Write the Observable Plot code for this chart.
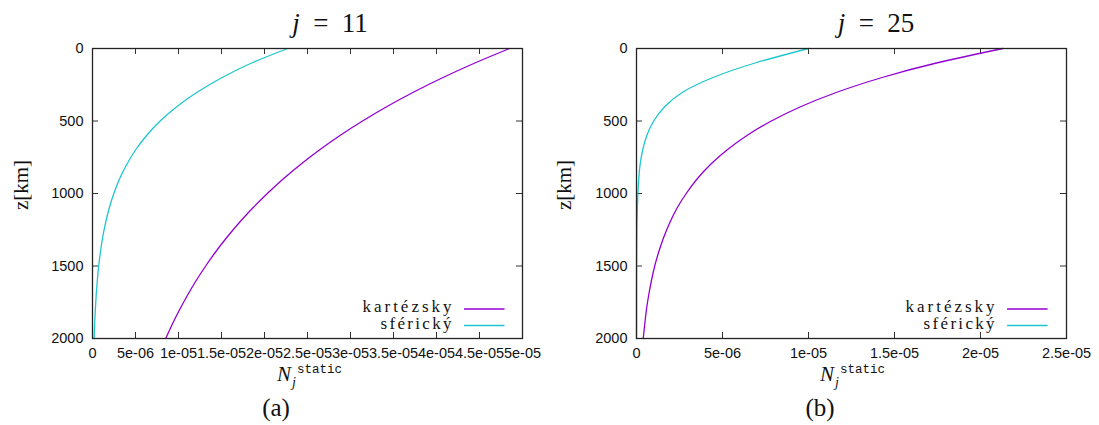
<!DOCTYPE html>
<html><head><meta charset="utf-8">
<script src="https://cdn.jsdelivr.net/npm/d3@7"></script>
<script src="https://cdn.jsdelivr.net/npm/@observablehq/plot@0.6"></script>
<style>
html,body{margin:0;padding:0;background:#fff;}
#wrap{position:relative;width:1099px;height:425px;overflow:hidden;background:#fff;}
.panel{position:absolute;top:0;}
#overlay{position:absolute;left:0;top:0;pointer-events:none;}
#overlay text{font-family:"Liberation Serif","Times New Roman",serif;fill:#111;}
</style></head><body>
<div id="wrap">
<div id="p1" class="panel" style="left:0px"></div>
<div id="p2" class="panel" style="left:549px"></div>
<svg id="overlay" width="1099" height="425"></svg>
</div>
<script>
// depth z [km]
const depth = [0,100,200,300,400,500,600,700,800,900,1000,1100,1200,1300,1400,1500,1600,1700,1800,1900,2000];
// j = 11
const cart11 = [4.85e-5,4.446e-5,4.076e-5,3.736e-5,3.425e-5,3.140e-5,2.878e-5,2.638e-5,2.419e-5,2.217e-5,2.033e-5,1.863e-5,1.708e-5,1.566e-5,1.435e-5,1.316e-5,1.206e-5,1.106e-5,1.014e-5,0.929e-5,0.852e-5];
const sph11  = [2.27e-5,1.85e-5,1.508e-5,1.221e-5,0.983e-5,0.786e-5,0.629e-5,0.500e-5,0.398e-5,0.314e-5,0.248e-5,0.195e-5,0.153e-5,0.119e-5,0.093e-5,0.072e-5,0.056e-5,0.043e-5,0.033e-5,0.025e-5,0.019e-5];
// j = 25
const cart25 = [2.13e-5,1.744e-5,1.428e-5,1.169e-5,0.957e-5,0.784e-5,0.642e-5,0.526e-5,0.430e-5,0.352e-5,0.289e-5,0.236e-5,0.194e-5,0.159e-5,0.130e-5,0.106e-5,0.087e-5,0.071e-5,0.058e-5,0.048e-5,0.039e-5];
const sph25  = [1.00e-5,0.69e-5,0.445e-5,0.27e-5,0.165e-5,0.10e-5,0.06e-5,0.036e-5,0.021e-5,0.013e-5,0.008e-5,0.005e-5,0.003e-5,0.0018e-5,0.0011e-5,0.0007e-5,0.0004e-5,0.00025e-5,0.00015e-5,0.0001e-5,0.00005e-5];

const xTicks11 = [0,5e-6,1e-5,1.5e-5,2e-5,2.5e-5,3e-5,3.5e-5,4e-5,4.5e-5,5e-5];
const xTickLabels11 = ["0","5e-06","1e-05","1.5e-05","2e-05","2.5e-05","3e-05","3.5e-05","4e-05","4.5e-05","5e-05"];
const xTicks25 = [0,5e-6,1e-5,1.5e-5,2e-5,2.5e-5];
const xTickLabels25 = ["0","5e-06","1e-05","1.5e-05","2e-05","2.5e-05"];
const yTicks = [0,500,1000,1500,2000];
const yTickLabels = ["0","500","1000","1500","2000"];
const seriesNames = ["kartézsky","sférický"];
const colors = ["#9400d3","#1fc6cf"];

const FW = 430, FH = 290;
function panel(cart, sph, xMax, xTicks, xTickLabels, marginLeft, marginRight) {
  const rows = vals => depth.map((z, i) => ({z, n: vals[i]}));
  return Plot.plot({
    width: 550, height: 425,
    marginLeft, marginRight, marginTop: 48, marginBottom: 87,
    x: {domain: [0, xMax], axis: null},
    y: {domain: [0, 2000], reverse: true, axis: null},
    style: {fontFamily: "'Liberation Sans', Arial, sans-serif", fontSize: "14.5px", color: "#111", background: "transparent"},
    marks: [
      Plot.tickX(xTicks, {x: d => d, insetTop: FH - 6, stroke: "#333"}),
      Plot.tickX(xTicks, {x: d => d, insetBottom: FH - 6, stroke: "#333"}),
      Plot.tickY(yTicks, {y: d => d, insetRight: FW - 6, stroke: "#333"}),
      Plot.tickY(yTicks, {y: d => d, insetLeft: FW - 6, stroke: "#333"}),
      Plot.line(rows(cart), {x: "n", y: "z", stroke: colors[0], strokeWidth: 1.3, curve: "natural"}),
      Plot.line(rows(sph), {x: "n", y: "z", stroke: colors[1], strokeWidth: 1.3, curve: "natural"}),
      Plot.frame({stroke: "#222", strokeWidth: 1.3}),
      Plot.text(xTicks, {x: d => d, text: (d, i) => xTickLabels[i], frameAnchor: "bottom", dy: 15, lineAnchor: "middle", fill: "#111"}),
      Plot.text(yTicks, {y: d => d, text: (d, i) => yTickLabels[i], frameAnchor: "left", dx: -9, textAnchor: "end", lineAnchor: "middle", fill: "#111"})
    ]
  });
}

document.getElementById("p1").append(panel(cart11, sph11, 5e-5, xTicks11, xTickLabels11, 92, 28));
document.getElementById("p2").append(panel(cart25, sph25, 2.5e-5, xTicks25, xTickLabels25, 87, 33));

// decorations (titles, axis labels, captions, legends)
const ov = d3.select("#overlay");
function deco(cfg) {
  const t = ov.append("text").attr("x", cfg.titleX).attr("y", 32).attr("text-anchor", "middle").attr("font-size", 27);
  t.append("tspan").attr("font-style", "italic").text("j");
  t.append("tspan").text("\u2002=\u2002" + cfg.j);
  const xl = ov.append("text").attr("y", 381).attr("font-size", 21);
  xl.append("tspan").attr("x", cfg.nX).attr("font-style", "italic").text("N");
  xl.append("tspan").attr("x", cfg.nX + 20).attr("y", 373).attr("font-size", 12.5).style("font-family", "'Liberation Mono', 'DejaVu Sans Mono', monospace").text("static");
  xl.append("tspan").attr("x", cfg.nX + 15).attr("y", 387).attr("font-size", 14).attr("font-style", "italic").text("j");
  ov.append("text").attr("x", cfg.capX).attr("y", 416).attr("text-anchor", "middle").attr("font-size", 25).text(cfg.cap);
  ov.append("text").attr("transform", `translate(${cfg.yLabX},185) rotate(-90)`).attr("text-anchor", "middle").attr("font-size", 21).text("z[km]");
  const lens = [89, 71];
  seriesNames.forEach((name, i) => {
    ov.append("text").attr("x", cfg.legX).attr("y", 312 + 17 * i).attr("text-anchor", "end").attr("font-size", 17)
      .attr("textLength", lens[i]).attr("lengthAdjust", "spacing").text(name);
    ov.append("line").attr("x1", cfg.legX + 12.5).attr("x2", cfg.legX + 53).attr("y1", 309 + 16.5 * i).attr("y2", 309 + 16.5 * i)
      .attr("stroke", colors[i]).attr("stroke-width", 1.3);
  });
}
deco({titleX: 330, j: "11", nX: 277, capX: 276, cap: "(a)", yLabX: 28, legX: 451.5});
deco({titleX: 876, j: "25", nX: 820, capX: 820, cap: "(b)", yLabX: 571, legX: 994.6});
</script>
</body></html>
